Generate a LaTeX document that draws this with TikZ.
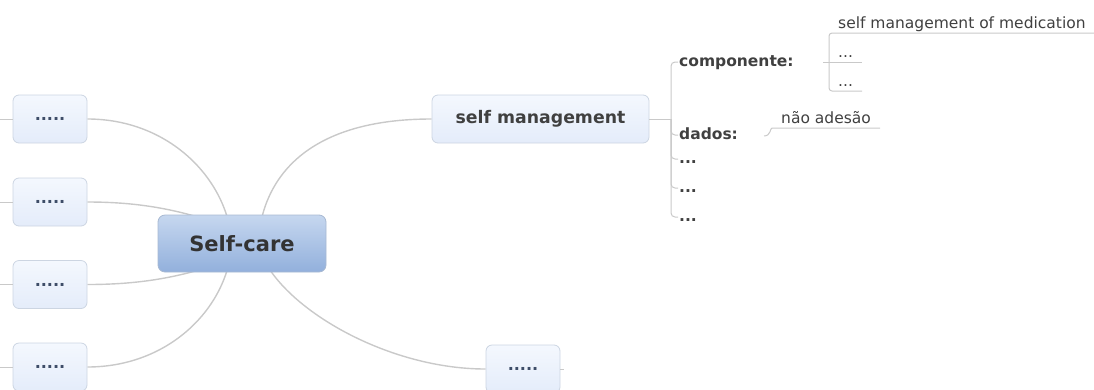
\documentclass[tikz,border=0pt]{standalone}
\usepackage{fontspec}
\setmainfont{DejaVu Sans}
\usetikzlibrary{backgrounds}
\definecolor{linegray}{HTML}{C9C9C9}
\definecolor{boxtop}{HTML}{F4F8FE}
\definecolor{boxbottom}{HTML}{E4ECFA}
\definecolor{boxline}{HTML}{CCD5E2}
\definecolor{sctop}{HTML}{C6D7EF}
\definecolor{scbottom}{HTML}{92B0DC}
\definecolor{scline}{HTML}{A8B9D2}
\definecolor{ink}{HTML}{404040}
\definecolor{dotink}{HTML}{3E4D68}
\tikzstyle{topic} = [draw=boxline, line width=0.8pt, rounded corners=6pt, top color=boxtop, bottom color=boxbottom, minimum width=74pt, minimum height=48pt, font=\bfseries\fontsize{16}{19}\selectfont, text=dotink]
\tikzstyle{central} = [draw=scline, line width=0.8pt, rounded corners=7pt, top color=sctop, bottom color=scbottom, minimum width=168pt, minimum height=57pt, font=\bfseries\fontsize{21}{25}\selectfont, text=black!80]
\tikzstyle{subtopic} = [anchor=west, inner sep=1pt, text height=1.6ex, text depth=0pt, font=\bfseries\fontsize{15.5}{18}\selectfont, text=ink]
\tikzstyle{leaf} = [anchor=south west, inner xsep=9pt, inner ysep=1.5pt, text depth=.25em, font=\fontsize{15.5}{18}\selectfont, text=ink]
\tikzstyle{branch} = [draw=linegray, line width=1.4pt]
\tikzstyle{twig} = [draw=linegray, line width=1pt]

\begin{document}
\begin{tikzpicture}[x=1pt, y=-1pt]

		\useasboundingbox (0,0) rectangle (1094,389);
		\coordinate (edge) at (0,0);

		\node [central] (sc) at (242,243.5) {Self-care};

		\node [topic] (b1) at (50,119) {.....};
		\node [topic] (b2) at (50,202) {.....};
		\node [topic] (b3) at (50,284.5) {.....};
		\node [topic] (b4) at (50,367) {.....};
		\node [topic] (bb) at (523,369) {.....};
		\node [topic, minimum width=217pt, font=\bfseries\fontsize{17.3}{20}\selectfont, text=ink] (sm) at (540.5,119) {self management};

		\node [subtopic] (comp) at (678,62) {componente:};
		\node [subtopic] (dados) at (678,135) {dados:};
		\node [subtopic] (d1) at (678,159) {...};
		\node [subtopic] (d2) at (678,188) {...};
		\node [subtopic] (d3) at (678,217) {...};

		\node [leaf] (m1) at (829,33) {self management of medication};
		\node [leaf] (m2) at (829,62) {...};
		\node [leaf] (m3) at (829,91) {...};
		\node [leaf] (nao) at (772,128) {não adesão};

		\coordinate (smfork) at (671,119);
		\coordinate (cstub) at (823,62);
		\coordinate (dstub) at (764,136);

		\begin{scope}[on background layer]
			\draw [branch] ([xshift=-10pt]sc.center) .. controls (228,180) and (170,119) .. (b1.east);
			\draw [branch] ([xshift=-27pt,yshift=21pt]sc.center) .. controls (170,207) and (130,202) .. (b2.east);
			\draw [branch] ([xshift=-27pt,yshift=-21.5pt]sc.center) .. controls (170,280) and (130,284.5) .. (b3.east);
			\draw [branch] ([xshift=-10pt]sc.center) .. controls (228,307) and (170,367) .. (b4.east);
			\draw [branch] ([xshift=16pt]sc.center) .. controls (262,175) and (310,119) .. (sm.west);
			\draw [branch] ([xshift=16pt]sc.center) .. controls (270,300) and (380,369) .. (bb.west);
		\end{scope}

		\draw [twig] (b1.west) -- (b1.west -| edge);
		\draw [twig] (b2.west) -- (b2.west -| edge);
		\draw [twig] (b3.west) -- (b3.west -| edge);
		\draw [twig] (b4.west) -- (b4.west -| edge);
		\draw [twig] (bb.east) -- ([xshift=4pt]bb.east);

		\draw [twig] (sm.east) -- (smfork);
		\draw [twig, rounded corners=4pt] (comp.west) -| (smfork) |- (d3.west);
		\draw [twig, rounded corners=4pt] (smfork) |- (dados.west);
		\draw [twig, rounded corners=4pt] (smfork) |- (d1.west);
		\draw [twig, rounded corners=4pt] (smfork) |- (d2.west);

		\draw [twig, rounded corners=3pt] (m1.south east) -- (m1.south west) |- (m3.south east);
		\draw [twig] (cstub) -- (m2.south east);
		\draw [twig] (dstub) .. controls (771,136) and (770,128) .. (nao.south west) -- (nao.south east);

	\end{tikzpicture}
\end{document}
